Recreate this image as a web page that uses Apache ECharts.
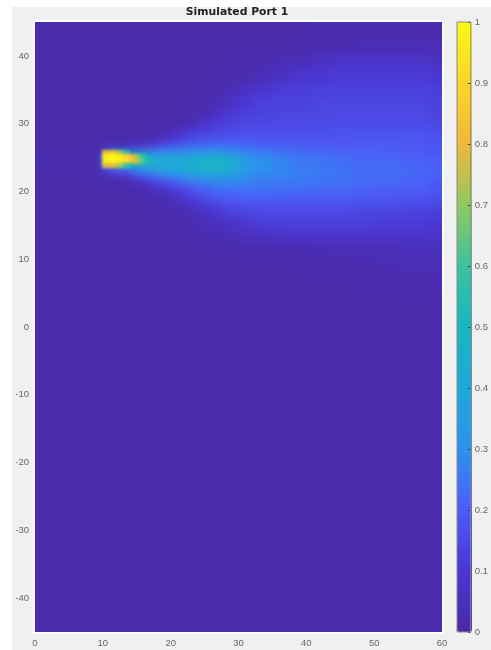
<!DOCTYPE html>
<html>
<head>
<meta charset="utf-8">
<script src="https://cdn.jsdelivr.net/npm/echarts@6/dist/echarts.min.js"></script>
<style>
html,body{margin:0;padding:0;background:#fff;width:491px;height:650px;overflow:hidden}
#bg{position:absolute;left:12px;top:7px;width:479px;height:643px;background:#f0f0f1}
#c{position:absolute;left:0;top:0;width:491px;height:650px}
</style>
</head>
<body>
<div id="bg"></div>
<div id="c"></div>
<script>
const chartTitle = 'Simulated Port 1';
const xTicks = [0, 10, 20, 30, 40, 50, 60];
const yTicks = [-40, -30, -20, -10, 0, 10, 20, 30, 40];
const parula = ['#4a2aa8', '#4b36d2', '#4c5cf8', '#2c92ee', '#1fa8d8', '#18b6c0', '#3cc2a0', '#92c862', '#eeb83a', '#fdd52a', '#f9f916'];

// Cell edges (the outer ones run just past the frame).
const xEdges = [-2, 10, 11, 12, 13, 14, 15, 16, 17, 18, 20, 22, 24, 26, 28, 30, 32, 35, 38, 41, 44, 47, 50, 54, 58, 62];
const yEdges = [47, 42, 40, 38, 36, 34, 32, 30.8, 29.8, 28.8, 27.8, 26.8, 25.8, 24.8, 23.7, 22.7, 21.7, 20.7, 19.7, 18.7, 17.7, 16, 14, 12, 10, 8, 5, -47];

// One row per y band, top to bottom; one value per x band, left to right.
const intensity = [
[.01,.01,.01,.01,.01,.01,.01,.01,.01,.01,.01,.01,.01,.01,.01,.01,.01,.01,.01,.015,.015,.015,.015,.015,.015],
[.01,.01,.01,.01,.01,.01,.01,.01,.01,.01,.01,.01,.01,.01,.01,.01,.01,.01,.01,.02,.025,.03,.03,.03,.03],
[.01,.01,.01,.01,.01,.01,.01,.01,.01,.01,.01,.01,.01,.01,.01,.01,.015,.03,.05,.07,.08,.08,.08,.08,.07],
[.01,.01,.01,.01,.01,.01,.01,.01,.01,.01,.01,.01,.01,.01,.01,.015,.035,.065,.09,.1,.11,.11,.11,.11,.1],
[.01,.01,.01,.01,.01,.01,.01,.01,.01,.01,.01,.01,.01,.01,.03,.06,.09,.11,.12,.12,.13,.13,.13,.13,.12],
[.01,.01,.01,.01,.01,.01,.01,.01,.01,.01,.01,.01,.01,.03,.07,.1,.12,.13,.13,.14,.14,.14,.14,.14,.13],
[.01,.01,.01,.01,.01,.01,.01,.01,.01,.01,.01,.01,.03,.07,.105,.125,.135,.14,.14,.15,.15,.15,.15,.15,.14],
[.01,.01,.01,.01,.01,.01,.01,.01,.01,.01,.01,.03,.07,.105,.13,.14,.145,.15,.15,.15,.155,.155,.155,.155,.145],
[.01,.01,.01,.01,.01,.01,.01,.01,.01,.01,.03,.07,.105,.13,.145,.15,.155,.155,.155,.16,.165,.165,.165,.165,.155],
[.01,.01,.01,.01,.01,.01,.01,.01,.01,.03,.08,.12,.145,.155,.16,.165,.17,.165,.17,.17,.175,.175,.175,.175,.165],
[.01,.01,.01,.01,.01,.01,.01,.01,.03,.08,.13,.16,.18,.19,.195,.195,.19,.185,.18,.18,.18,.185,.185,.185,.175],
[.01,.05,.08,.09,.1,.11,.14,.17,.19,.22,.24,.26,.27,.27,.26,.24,.23,.22,.21,.2,.2,.2,.2,.19,.18],
[.01,.25,.4,.5,.5,.5,.5,.48,.42,.38,.36,.36,.38,.38,.35,.31,.28,.26,.25,.24,.23,.22,.21,.2,.19],
[.02,.25,.4,.5,.5,.52,.52,.5,.46,.42,.42,.46,.5,.5,.46,.36,.3,.27,.25,.24,.23,.22,.22,.21,.2],
[.01,.14,.17,.2,.22,.25,.3,.33,.36,.38,.4,.43,.46,.46,.42,.34,.3,.28,.26,.25,.24,.23,.23,.22,.21],
[.01,.03,.05,.06,.08,.12,.17,.2,.24,.26,.3,.33,.35,.36,.34,.3,.28,.27,.26,.25,.24,.23,.23,.22,.21],
[.01,.01,.01,.01,.02,.03,.05,.08,.12,.16,.2,.24,.27,.28,.28,.27,.26,.25,.25,.24,.24,.23,.22,.21,.19],
[.01,.01,.01,.01,.01,.01,.02,.03,.04,.07,.12,.17,.2,.23,.24,.24,.24,.23,.23,.22,.22,.21,.2,.2,.18],
[.01,.01,.01,.01,.01,.01,.01,.01,.02,.03,.07,.12,.16,.19,.2,.21,.21,.21,.2,.2,.2,.19,.19,.18,.17],
[.01,.01,.01,.01,.01,.01,.01,.01,.01,.02,.04,.08,.12,.15,.17,.18,.18,.18,.18,.18,.18,.17,.17,.16,.15],
[.01,.01,.01,.01,.01,.01,.01,.01,.01,.01,.02,.04,.07,.1,.13,.14,.15,.15,.15,.15,.15,.14,.14,.13,.12],
[.01,.01,.01,.01,.01,.01,.01,.01,.01,.01,.01,.02,.03,.05,.07,.09,.11,.12,.12,.12,.12,.12,.11,.11,.1],
[.01,.01,.01,.01,.01,.01,.01,.01,.01,.01,.01,.01,.01,.02,.03,.04,.05,.06,.07,.07,.07,.07,.07,.07,.07],
[.01,.01,.01,.01,.01,.01,.01,.01,.01,.01,.01,.01,.01,.01,.01,.01,.015,.02,.02,.025,.03,.03,.035,.04,.04],
[.01,.01,.01,.01,.01,.01,.01,.01,.01,.01,.01,.01,.01,.01,.01,.01,.01,.01,.012,.015,.015,.02,.025,.03,.03],
[.01,.01,.01,.01,.01,.01,.01,.01,.01,.01,.01,.01,.01,.01,.01,.01,.01,.01,.01,.01,.01,.012,.015,.02,.025],
[.01,.01,.01,.01,.01,.01,.01,.01,.01,.01,.01,.01,.01,.01,.01,.01,.01,.01,.01,.01,.01,.01,.01,.01,.01]
];

// The bright core at the nozzle, drawn sharper than the wide plume (null: no core there).
const coreXEdges = [10, 11, 12, 13, 14, 14.5, 15, 15.5, 16, 16.5, 17, 17.5];
const coreYEdges = [26, 25.4, 24.8, 24.1, 23.5];
const coreIntensity = [
[.8, .82, .72, .55, null, null, null, null, null, null, null],
[.97, 1, .97, .9, .82, .76, .68, .6, .53, null, null],
[.95, .99, .96, .92, .85, .78, .72, .65, .58, .52, .47],
[.78, .8, .72, .6, .5, null, null, null, null, null, null]
];

function toCells(rows, xs, ys) {
  const out = [];
  rows.forEach(function (row, r) {
    row.forEach(function (v, c) {
      if (v !== null) out.push([xs[c], xs[c + 1], ys[r + 1], ys[r], v]);
    });
  });
  return out;
}

function renderCell(params, api) {
  const a = api.coord([api.value(0), api.value(3)]);
  const b = api.coord([api.value(1), api.value(2)]);
  const x = Math.floor(a[0]), y = Math.floor(a[1]);
  return { type: 'rect',
    shape: { x: x, y: y, width: Math.ceil(b[0]) - x, height: Math.ceil(b[1]) - y },
    style: { fill: api.visual('color') } };
}

const tickFont = { color: '#666', fontSize: 9.5, fontFamily: 'Liberation Sans' };
const chart = echarts.init(document.getElementById('c'), null, { renderer: 'canvas' });
chart.setOption({
  animation: false,
  title: {
    text: chartTitle, left: 232, top: 2, textAlign: 'center',
    textStyle: { fontFamily: 'DejaVu Sans', fontWeight: 'bold', fontSize: 10.8, color: '#222' }
  },
  grid: [
    { left: 35, top: 22, width: 407, height: 610, show: true, borderColor: '#fff', borderWidth: 3, backgroundColor: 'transparent' },
    { left: 457, top: 22, width: 15, height: 610, show: true, borderColor: '#8a8a8a', borderWidth: 1, backgroundColor: 'transparent', zlevel: 3, z: 9 }
  ],
  xAxis: [
    { type: 'value', gridIndex: 0, position: 'bottom', min: 0, max: 60, interval: 10, zlevel: 3,
      splitLine: { show: false }, axisLine: { show: false, onZero: false }, axisTick: { show: false },
      axisLabel: Object.assign({ margin: 6, customValues: xTicks, hideOverlap: false }, tickFont) },
    { type: 'value', gridIndex: 1, show: false, min: 0, max: 1 }
  ],
  yAxis: [
    { type: 'value', gridIndex: 0, position: 'left', min: -45, max: 45, zlevel: 3,
      splitLine: { show: false }, axisLine: { show: false, onZero: false }, axisTick: { show: false },
      axisLabel: Object.assign({ margin: 6, customValues: yTicks, hideOverlap: false }, tickFont) },
    { type: 'value', gridIndex: 1, position: 'right', min: 0, max: 1, interval: 0.1, zlevel: 3,
      splitLine: { show: false }, axisLine: { show: false, onZero: false },
      axisTick: { show: true, inside: true, length: 3, lineStyle: { color: '#444' } },
      axisLabel: Object.assign({ margin: 4, showMinLabel: true, showMaxLabel: true }, tickFont) }
  ],
  visualMap: {
    type: 'continuous', seriesIndex: [0, 1], dimension: 4, min: 0, max: 1,
    left: 457, top: 22, itemWidth: 15, itemHeight: 610, padding: 0,
    calculable: false, hoverLink: false, text: null, showLabel: false,
    inRange: { color: parula }
  },
  series: [
    { type: 'custom', xAxisIndex: 0, yAxisIndex: 0, zlevel: 1, silent: true, clip: false,
      encode: { x: [0, 1], y: [2, 3] }, dimensions: ['x0', 'x1', 'y0', 'y1', 'v'],
      data: toCells(intensity, xEdges, yEdges), renderItem: renderCell },
    { type: 'custom', xAxisIndex: 0, yAxisIndex: 0, zlevel: 2, silent: true, clip: false,
      encode: { x: [0, 1], y: [2, 3] }, dimensions: ['x0', 'x1', 'y0', 'y1', 'v'],
      data: toCells(coreIntensity, coreXEdges, coreYEdges), renderItem: renderCell }
  ]
});

function soften() {
  const wide = document.querySelector('canvas[data-zr-dom-id="zr_1"]');
  const core = document.querySelector('canvas[data-zr-dom-id="zr_2"]');
  if (wide) {
    wide.style.filter = 'blur(4px)';
    wide.style.clipPath = 'inset(22px 49px 18px 35px)';
  }
  if (core) core.style.filter = 'blur(1.5px)';
}
soften();
chart.on('finished', soften);
</script>
</body>
</html>
